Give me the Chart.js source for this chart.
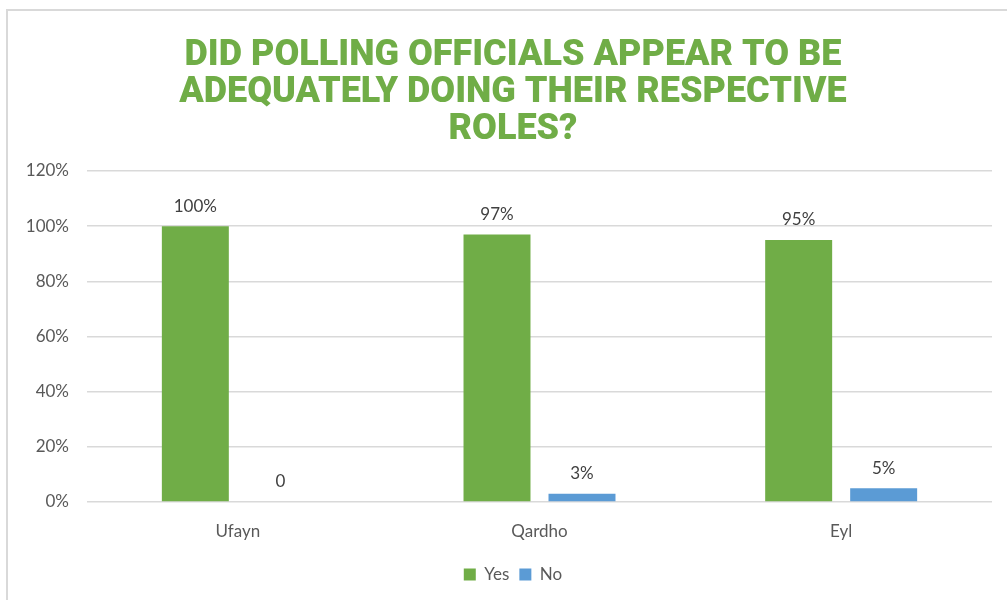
<!DOCTYPE html>
<html>
<head>
<meta charset="utf-8">
<script src="https://cdn.jsdelivr.net/npm/chart.js@4.4.1/dist/chart.umd.min.js"></script>
<style>
  html, body { margin: 0; padding: 0; background: #ffffff; overflow: hidden; }
  #wrap { position: relative; width: 1040px; height: 600px; }
</style>
</head>
<body>
<div id="wrap"><canvas id="chart"></canvas></div>
<script>
// Survey results per district
const categories = ['Ufayn', 'Qardho', 'Eyl'];
const yesValues = [100, 97, 95];
const noValues = [0, 3, 5];
const seriesNames = ['Yes', 'No'];
const yTicks = [0, 20, 40, 60, 80, 100, 120];
const titleLines = [
  'DID POLLING OFFICIALS APPEAR TO BE',
  'ADEQUATELY DOING THEIR RESPECTIVE',
  'ROLES?'
];

const GREEN = '#70AD47';
const BLUE = '#5B9BD5';
const TEXT = '#595959';
const LABEL_FONT = 'Lato, "Open Sans", sans-serif';

// white background plus the outer chart frame
const framePlugin = {
  id: 'frame',
  beforeDraw(chart) {
    const ctx = chart.ctx;
    ctx.save();
    ctx.fillStyle = '#ffffff';
    ctx.fillRect(0, 0, chart.width, chart.height);
    ctx.strokeStyle = '#D9D9D9';
    ctx.lineWidth = 2;
    ctx.beginPath();
    ctx.moveTo(7, chart.height + 5);
    ctx.lineTo(7, 10);
    ctx.lineTo(chart.width + 5, 10);
    ctx.stroke();
    ctx.restore();
  }
};

// value labels above each bar
const valueLabels = {
  id: 'valueLabels',
  afterDatasetsDraw(chart) {
    const ctx = chart.ctx;
    ctx.save();
    ctx.font = '17px ' + LABEL_FONT;
    ctx.fillStyle = '#404040';
    ctx.textAlign = 'center';
    ctx.textBaseline = 'middle';
    chart.data.datasets.forEach((ds, di) => {
      const meta = chart.getDatasetMeta(di);
      meta.data.forEach((bar, i) => {
        const v = ds.data[i];
        const text = v === 0 ? '0' : v + '%';
        ctx.fillText(text, bar.x, bar.y - 20);
      });
    });
    ctx.restore();
  }
};

new Chart(document.getElementById('chart'), {
  type: 'bar',
  data: {
    labels: categories,
    datasets: [
      { label: seriesNames[0], data: yesValues, backgroundColor: GREEN, categoryPercentage: 0.5635, barPercentage: 0.788 },
      { label: seriesNames[1], data: noValues, backgroundColor: BLUE, categoryPercentage: 0.5635, barPercentage: 0.788 }
    ]
  },
  options: {
    responsive: true,
    maintainAspectRatio: false,
    animation: false,
    layout: { padding: { left: 7, right: 21, top: 10, bottom: 7 } },
    plugins: {
      title: {
        display: true,
        text: titleLines,
        color: GREEN,
        font: { family: 'Roboto, "DejaVu Sans", sans-serif', size: 36, weight: '900', lineHeight: 37 / 36 },
        padding: { top: 27, bottom: 23 }
      },
      legend: {
        position: 'bottom',
        labels: {
          color: TEXT,
          font: { family: LABEL_FONT, size: 17 },
          boxWidth: 12,
          boxHeight: 12,
          padding: 10
        }
      },
      tooltip: { enabled: false }
    },
    scales: {
      x: {
        grid: { display: false },
        border: { display: false },
        ticks: { color: TEXT, font: { family: LABEL_FONT, size: 17 }, padding: 11 },
        afterFit(s) { s.height = 54; }
      },
      y: {
        min: 0,
        max: 120,
        afterBuildTicks(s) { s.ticks = yTicks.map(v => ({ value: v })); },
        grid: { color: '#D9D9D9', lineWidth: 1.5, drawTicks: false },
        border: { display: false },
        ticks: {
          color: TEXT,
          font: { family: LABEL_FONT, size: 17 },
          padding: 18,
          callback: v => v + '%'
        },
        afterFit(s) { s.width = 80; }
      },
      yRight: {
        position: 'right',
        min: 0,
        max: 120,
        grid: { display: false },
        border: { display: false },
        ticks: { display: false },
        afterFit(s) { s.width = 27; }
      }
    }
  },
  plugins: [framePlugin, valueLabels]
});
</script>
</body>
</html>
